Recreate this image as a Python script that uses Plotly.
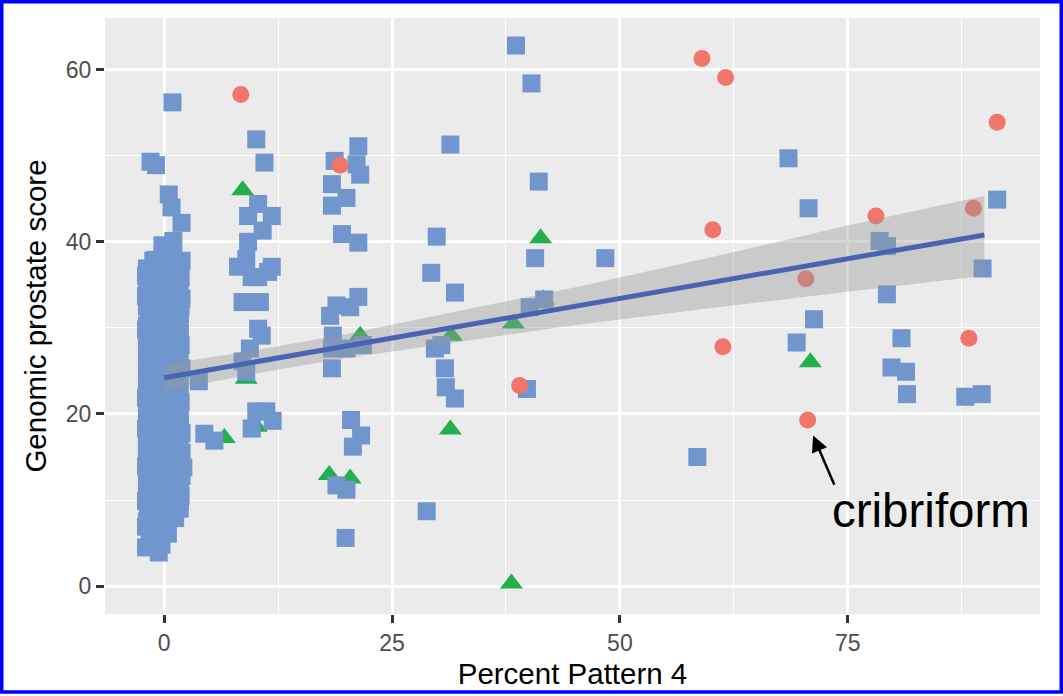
import plotly.graph_objects as go

# ---- data: percent pattern 4 vs genomic prostate score ----
# growth pattern group drawn as squares (blue)
sq_x = [
    # dense column near 0 %
    -2.0, -0.6, -0.3, -1.6, 0.4, -2.0, -0.3, 1.2, -1.3, 0.6, 1.7, -2.0, -0.6, 1.4,
    -1.8, 0.2, 1.9, -1.1, -2.0, 0.8, 2.1, -0.2, 1.6, -1.9, 0.5, -1.0, 1.9, -2.0,
    0.1, 1.2, -1.5, -0.4, 1.8, -2.0, 0.7, -0.9, 1.5, -1.8, 0.3, 1.9, -1.2, -0.1,
    1.5, -1.6, 0.9, -0.6, 1.7, -2.0, 0.4, -1.4, 1.7, -0.3, 1.0, -2.0, 1.9, -0.8,
    0.6, -2.0, 1.0, -0.2, -1.2, 1.9, 0.3, -0.2, 1.0, 1.9, 0.8, 0.5, -1.5, -0.9,
    0.9, -1.0, 0.0, 1.0, -1.0, 0.0, 1.0, -1.0, 0.0, 1.0, -1.0, 0.0, 1.0, -1.0,
    0.0, -1.0, 1.0, -1.0, 1.2, -1.5, 1.0, -1.2, 1.2, -1.7, -1.6, 1.8, 1.7, -1.7,
    1.8, 1.8, -1.8, 1.9, 1.8, -1.8,
    -1.9, -1.9, -1.9, -1.9, -1.9, -1.9, -1.9, -1.9, -1.9, -1.9, -1.9, -1.9, -1.9,
    -1.9, -1.9,
    -0.7, -0.7, -0.7, -0.7, -0.7, -0.7, -0.7, -0.7, -0.7, -0.7, -0.7, -0.7,
    0.5, 0.5, 0.5, 0.5, 0.5, 0.5, 0.5, 0.5, 0.5, 0.5, 0.5, 0.5,
    1.7, 1.7, 1.7, 1.7, 1.7, 1.7, 1.7, 1.7, 1.7, 1.7, 1.7, 1.7, 1.7,
    3.8, 4.4, 5.5,
    # 5-15 %
    10.1, 11.0, 10.3, 11.8, 9.2, 10.8, 9.2, 9.0, 8.1, 11.8, 10.3, 8.6, 10.5, 10.3,
    10.7, 9.4, 8.6, 9.0, 11.2, 11.9, 10.1, 9.6, 9.6, 11.4,
    # 15-25 %
    18.7, 21.3, 21.5, 21.1, 18.4, 20.0, 18.4, 19.5, 21.3, 21.3, 18.9, 18.2, 20.4,
    18.5, 18.4, 18.4, 20.0, 21.8, 20.5, 21.6, 20.7, 18.9, 20.0, 19.9,
    # 25-50 %
    38.6, 40.3, 31.4, 41.1, 29.9, 40.7, 48.4, 29.3, 31.9, 40.1, 30.4, 29.7, 30.8,
    30.9, 31.9, 39.8, 28.8, 41.7,
    # above 50 %
    58.5, 68.5, 70.7, 91.4, 78.5, 79.3, 89.8, 79.3, 71.3, 69.4, 80.9, 79.8, 81.4,
    81.5, 87.9, 89.7,
]
sq_y = [
    4.5, 3.9, 4.8, 5.6, 6.1, 6.9, 7.4, 7.9, 8.6, 9.2, 9.8, 9.9, 10.5, 11.2,
    11.6, 12.1, 12.8, 13.3, 13.9, 14.2, 13.8, 15.0, 15.6, 15.9, 16.7, 17.2, 17.8, 18.3,
    18.9, 19.6, 20.1, 20.8, 21.4, 21.9, 22.3, 23.0, 23.6, 24.2, 24.7, 25.3, 25.9, 26.5,
    26.8, 27.4, 28.0, 28.7, 29.3, 29.8, 30.4, 31.2, 31.6, 32.3, 33.0, 33.7, 33.4, 34.4,
    35.0, 36.1, 35.6, 36.8, 37.8, 37.8, 38.6, 39.6, 40.1, 42.2, 44.0, 45.5, 49.3, 48.9,
    56.2, 5.2, 6.5, 9.0, 11.0, 13.5, 16.5, 19.0, 21.5, 24.0, 27.0, 29.5, 31.0, 33.0,
    34.5, 36.0, 38.0, 37.9, 12.5, 15.2, 20.5, 22.0, 27.5, 30.5, 35.0, 35.8, 19.5, 26.0,
    28.0, 32.5, 17.5, 15.5, 10.5, 8.0,
    7.5, 10.8, 12.7, 14.8, 17.0, 19.2, 20.9, 23.1, 25.0, 26.7, 28.5, 30.3, 32.5,
    34.9, 36.9,
    6.0, 8.0, 12.0, 14.5, 16.0, 18.0, 22.5, 24.5, 26.0, 30.0, 32.0, 35.5,
    8.5, 10.0, 13.0, 15.5, 17.5, 20.0, 23.0, 26.0, 29.0, 31.5, 34.0, 37.0,
    9.0, 11.5, 14.0, 16.5, 18.5, 20.5, 22.5, 24.5, 27.0, 30.0, 32.0, 34.5, 36.5,
    23.8, 17.7, 16.9,
    51.9, 49.2, 44.4, 43.0, 43.0, 41.3, 40.0, 38.0, 37.1, 37.1, 35.9, 33.0, 33.0, 29.9,
    29.1, 27.6, 26.1, 24.9, 20.3, 19.2, 20.3, 18.3, 35.9, 36.5,
    49.4, 51.1, 47.8, 49.0, 46.7, 45.1, 44.2, 40.9, 39.9, 33.6, 32.6, 31.4, 32.4,
    29.1, 27.6, 25.3, 27.6, 28.0, 19.3, 17.5, 16.2, 11.7, 11.2, 5.6,
    62.8, 58.4, 51.3, 47.0, 40.6, 38.1, 38.1, 36.4, 34.1, 32.4, 28.0, 27.6, 25.3,
    23.1, 21.8, 22.9, 8.7, 33.3,
    15.0, 49.7, 43.9, 44.9, 40.1, 39.5, 36.9, 33.9, 31.0, 28.3, 28.8, 25.4, 24.9,
    22.3, 22.0, 22.3,
]

# growth pattern group drawn as triangles (green)
tri_x = [8.6, 9.0, 10.1, 6.6, 18.1, 20.4, 21.5, 31.5, 31.4, 38.3, 41.3, 41.6, 38.1, 70.9]
tri_y = [46.0, 24.1, 18.5, 17.2, 12.9, 12.5, 29.1, 29.1, 18.2, 30.5, 40.4, 33.3, 0.3, 26.0]

# growth pattern group drawn as circles (red)
circ_x = [8.4, 19.3, 39.0, 59.0, 61.6, 91.4, 60.2, 78.1, 88.8, 70.4, 61.3, 88.3, 70.6]
circ_y = [57.1, 48.9, 23.3, 61.3, 59.1, 53.9, 41.4, 43.0, 43.9, 35.7, 27.8, 28.8, 19.3]

# linear fit with its 95% confidence band
fit_x = [0, 90]
fit_y = [24.2, 40.8]
band_x = [0, 10, 20, 30, 45, 60, 75, 90]
band_lo = [22.65, 24.7, 26.5, 28.05, 30.3, 32.3, 34.2, 36.05]
band_hi = [25.75, 27.4, 29.3, 31.45, 34.7, 38.2, 41.9, 45.35]

# axis ticks
x_ticks = [0, 25, 50, 75]
y_ticks = [0, 20, 40, 60]
x_minor = [12.5, 37.5, 62.5, 87.5]
y_minor = [10, 30, 50]

FONT = "Liberation Sans, Arial, Helvetica, sans-serif"
BLUE = "#7096CD"
GREEN = "#22B04B"
RED = "#F1756B"

fig = go.Figure()

fig.add_trace(go.Scatter(
    x=tri_x, y=tri_y, mode="markers",
    marker=dict(symbol="triangle-up", size=20, color=GREEN, line=dict(width=0)),
    hoverinfo="x+y",
))
fig.add_trace(go.Scatter(
    x=sq_x, y=sq_y, mode="markers",
    marker=dict(symbol="square", size=18, color=BLUE, line=dict(width=0)),
    hoverinfo="x+y",
))
fig.add_trace(go.Scatter(
    x=circ_x, y=circ_y, mode="markers",
    marker=dict(symbol="circle", size=17, color=RED, line=dict(width=0)),
    hoverinfo="x+y",
))

# confidence band polygon
fig.add_trace(go.Scatter(
    x=band_x + band_x[::-1],
    y=band_hi + band_lo[::-1],
    mode="lines", fill="toself",
    fillcolor="rgba(153,153,153,0.4)",
    line=dict(width=0), hoverinfo="skip",
))
fig.add_trace(go.Scatter(
    x=fit_x, y=fit_y, mode="lines",
    line=dict(color="#4863B4", width=5), hoverinfo="skip",
))

axis_common = dict(
    ticks="outside", ticklen=8, tickwidth=2.6, tickcolor="#333333",
    tickfont=dict(family=FONT, size=23, color="#4D4D4D"),
    showgrid=True, gridcolor="white", gridwidth=2.8,
    zeroline=False, showline=False, tickmode="array",
)

fig.update_layout(
    width=1063, height=696,
    margin=dict(l=105, r=23, t=18, b=80),
    paper_bgcolor="white", plot_bgcolor="#EBEBEB",
    showlegend=False,
    font=dict(family=FONT),
    xaxis=dict(
        range=[-6.5, 96.1], tickvals=x_ticks, ticktext=[str(v) for v in x_ticks],
        minor=dict(tickmode="array", tickvals=x_minor, showgrid=True,
                   gridcolor="white", gridwidth=1.4, ticks=""),
        title=dict(text="Percent Pattern 4", standoff=8,
                   font=dict(family=FONT, size=29.5, color="black")),
        **axis_common,
    ),
    yaxis=dict(
        range=[-3.24, 66.0], tickvals=y_ticks, ticktext=[str(v) for v in y_ticks],
        minor=dict(tickmode="array", tickvals=y_minor, showgrid=True,
                   gridcolor="white", gridwidth=1.4, ticks=""),
        title=dict(text="Genomic prostate score", standoff=10,
                   font=dict(family=FONT, size=29.5, color="black")),
        **axis_common,
    ),
)

# label and arrow pointing at the cribriform case
fig.add_annotation(
    x=73.1, y=8.8, xref="x", yref="y", text="cribriform",
    showarrow=False, xanchor="left", yanchor="middle",
    font=dict(family=FONT, size=47.5, color="black"),
)
fig.add_annotation(
    x=71.2, y=17.5, ax=73.6, ay=11.6, xref="x", yref="y", axref="x", ayref="y",
    text="", showarrow=True, arrowhead=2, arrowsize=1.3, arrowwidth=2.5,
    arrowcolor="black",
)

# blue frame around the whole figure
W, H = 1063, 696
L, R, T, B = 105, 23, 18, 80
pw, ph = W - L - R, H - T - B
edge = 1.75
fig.add_shape(
    type="rect", xref="paper", yref="paper",
    x0=(edge - L) / pw, x1=(W - edge - L) / pw,
    y0=-(B - edge) / ph, y1=(ph + T - edge) / ph,
    line=dict(color="#0000FF", width=3.5), fillcolor="rgba(0,0,0,0)",
    layer="above",
)

fig.write_html("out.html")
